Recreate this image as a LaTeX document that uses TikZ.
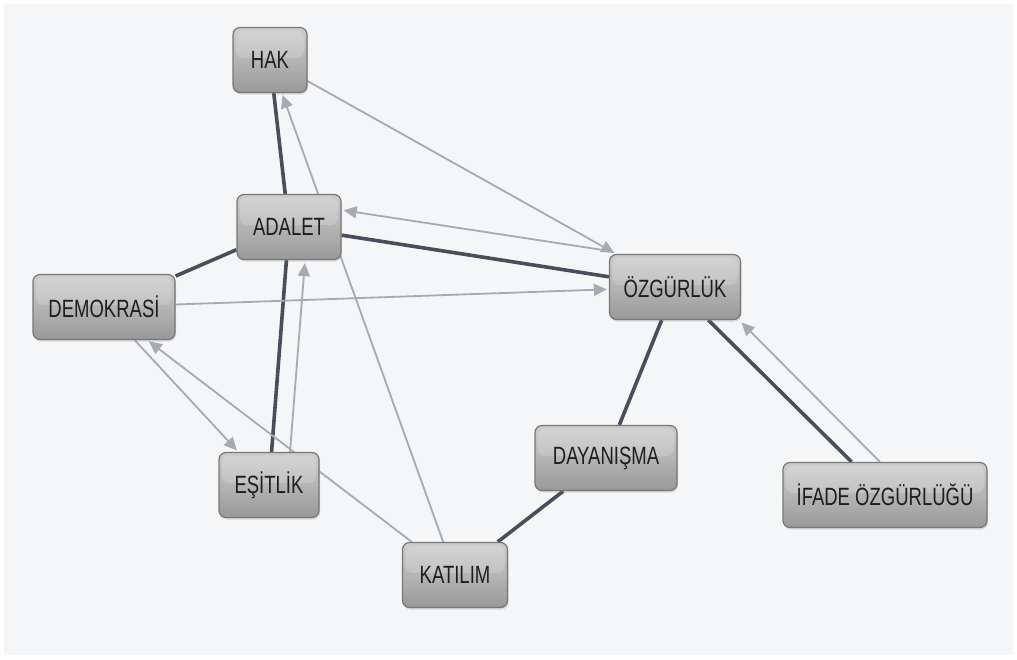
\documentclass[tikz,border=0pt]{standalone}
\usepackage{fontspec}
\setmainfont{Liberation Sans}[FakeStretch=0.74]
\usetikzlibrary{arrows.meta,shadows}
\definecolor{bgcol}{HTML}{F5F6F7}
\definecolor{darkedge}{HTML}{4A4E5C}
\definecolor{lightedge}{HTML}{A8AAB2}
\definecolor{boxborder}{HTML}{777777}
\definecolor{boxtop}{HTML}{CCCCCC}
\definecolor{boxmid}{HTML}{B4B4B4}
\definecolor{boxbot}{HTML}{999999}
\definecolor{textcol}{HTML}{1E1E1E}
\pgfdeclarelayer{bottom}
\pgfdeclarelayer{background}
\pgfsetlayers{bottom,background,main}
\tikzset{
  box/.style={draw=boxborder, line width=1.2pt, rounded corners=7pt,
    top color=boxtop, bottom color=boxbot, middle color=boxmid,
    minimum height=65pt, inner xsep=0pt, inner ysep=0pt,
    font=\fontsize{25}{28}\selectfont, text=textcol,
    drop shadow={shadow xshift=1pt, shadow yshift=-2pt, opacity=0.25},
    path picture={\fill[white,opacity=0.18]
      ([xshift=3pt,yshift=-3pt]path picture bounding box.north west) rectangle
      ([xshift=-3pt,yshift=2pt]path picture bounding box.east);}},
  strong/.style={draw=darkedge, line width=3.6pt},
  weak/.style={draw=lightedge, line width=1.8pt,
    -{Triangle[length=13pt,width=12pt]}, shorten >=2pt}
}
\begin{document}
\begin{tikzpicture}[x=1pt,y=-1pt]
\useasboundingbox (0,0) rectangle (1017,659);
\begin{pgfonlayer}{bottom}
  \fill[white] (0,0) rectangle (1017,659);
  \fill[bgcol] (4,4) rectangle (1013,655);
\end{pgfonlayer}

\node[box, minimum width=74pt]  (hak)      at (270,60)  {HAK};
\node[box, minimum width=104pt] (adalet)   at (289,227) {ADALET};
\node[box, minimum width=142pt] (demok)    at (104,307) {DEMOKRASİ};
\node[box, minimum width=131pt] (ozg)      at (675,287) {ÖZGÜRLÜK};
\node[box, minimum width=100pt] (esit)     at (269,485) {EŞİTLİK};
\node[box, minimum width=105pt] (katilim)  at (455,575) {KATILIM};
\node[box, minimum width=142pt] (dayan)    at (606,458) {DAYANIŞMA};
\node[box, minimum width=204pt] (ifade)    at (885,495) {İFADE ÖZGÜRLÜĞÜ};

\begin{pgfonlayer}{background}
  % strong undirected links
  \draw[strong] (hak) -- (adalet);
  \draw[strong] (adalet) -- (demok);
  \draw[strong] (adalet) -- (ozg);
  \draw[strong] (adalet) -- (esit);
  \draw[strong] (ozg) -- (dayan);
  \draw[strong] (ozg) -- (ifade);
  \draw[strong] (dayan) -- (katilim);
  % weak directed links
  \draw[weak] (hak) -- (ozg);
  \draw[weak] (katilim) -- (hak);
  \draw[weak] (demok) -- (ozg);
  \draw[weak] (demok) -- (esit);
  \draw[weak] (katilim) -- (demok);
  \draw[weak] ([yshift=3pt]ozg.north west) -- ([yshift=17pt]adalet.east);
  \draw[weak] ([xshift=21pt]esit.north) -- ([xshift=16pt,yshift=-1pt]adalet.south);
  \draw[weak] ([xshift=-5pt]ifade.north) -- ([xshift=-1pt,yshift=-1pt]ozg.south east);
\end{pgfonlayer}
\end{tikzpicture}
\end{document}
